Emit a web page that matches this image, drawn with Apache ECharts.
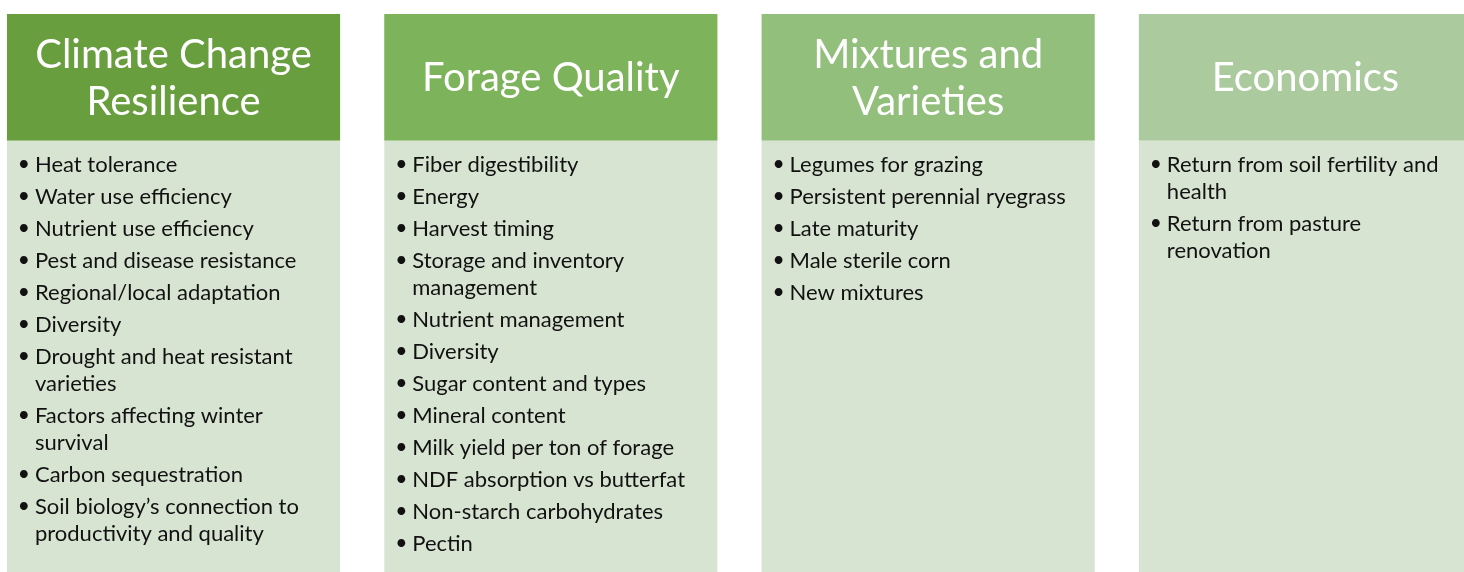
<!DOCTYPE html>
<html style="height: 100%">
<head>
<meta charset="utf-8">
<script src="https://cdn.jsdelivr.net/npm/echarts@6/dist/echarts.min.js"></script>
</head>
<body style="height: 100%; margin: 0; background: #fff">
<div id="container" style="width: 1464px; height: 572px"></div>
<script type="text/javascript">
// column headings
var headings = ['Climate Change\nResilience', 'Forage Quality', 'Mixtures and\nVarieties', 'Economics'];
var headColors = ['#689e3e', '#7db35a', '#93bf7c', '#abca9d'];

// bullet items per column (line breaks as in the reference)
var climateItems = [
  'Heat tolerance',
  'Water use efficiency',
  'Nutrient use efficiency',
  'Pest and disease resistance',
  'Regional/local adaptation',
  'Diversity',
  'Drought and heat resistant\nvarieties',
  'Factors affecting winter\nsurvival',
  'Carbon sequestration',
  'Soil biology\u2019s connection to\nproductivity and quality'
];
var forageItems = [
  'Fiber digestibility',
  'Energy',
  'Harvest timing',
  'Storage and inventory\nmanagement',
  'Nutrient management',
  'Diversity',
  'Sugar content and types',
  'Mineral content',
  'Milk yield per ton of forage',
  'NDF absorption vs butterfat',
  'Non-starch carbohydrates',
  'Pectin'
];
var mixtureItems = [
  'Legumes for grazing',
  'Persistent perennial ryegrass',
  'Late maturity',
  'Male sterile corn',
  'New mixtures'
];
var economicsItems = [
  'Return from soil fertility and\nhealth',
  'Return from pasture\nrenovation'
];
var columnItems = [climateItems, forageItems, mixtureItems, economicsItems];

var FONT = 'Lato, "Open Sans", sans-serif';

var myChart = echarts.init(document.getElementById('container'));

function renderColumn(params, api) {
  var idx = api.value(0);
  var cx = api.coord([idx, 0])[0];
  var w = api.size([1, 0])[0] * 0.883;
  var x0 = cx - w / 2;
  var top = api.coord([idx, 14])[1];
  var mid = api.coord([idx, 140.7])[1];
  var bot = api.coord([idx, 572])[1];
  var children = [
    { type: 'rect', shape: { x: x0, y: top, width: w, height: mid - top }, style: { fill: headColors[idx] } },
    { type: 'rect', shape: { x: x0, y: mid, width: w, height: bot - mid }, style: { fill: '#d8e4d2' } },
    { type: 'text', style: {
        text: headings[idx], x: cx, y: (top + mid) / 2 + 1, fill: '#fff',
        font: '40px ' + FONT, align: 'center', verticalAlign: 'middle', lineHeight: 47
    } }
  ];
  var y = mid + 24;
  columnItems[idx].forEach(function (item) {
    var lines = item.split('\n');
    children.push({ type: 'text', style: {
      text: '\u2022', x: x0 + 17, y: y, fill: '#111', font: '21px ' + FONT,
      align: 'center', verticalAlign: 'middle'
    } });
    children.push({ type: 'text', style: {
      text: item, x: x0 + 28, y: y - 13.5, fill: '#111', font: '22px ' + FONT,
      align: 'left', verticalAlign: 'top', lineHeight: 27
    } });
    y += lines.length * 27 + 5;
  });
  return { type: 'group', children: children };
}

var option = {
  animation: false,
  grid: { left: 0, right: 0, top: 0, bottom: 0 },
  xAxis: { type: 'value', min: -0.4599, max: 3.4202, show: false },
  yAxis: { type: 'value', min: 0, max: 572, inverse: true, show: false },
  series: [{
    type: 'custom',
    renderItem: renderColumn,
    clip: false,
    data: [[0], [1], [2], [3]]
  }]
};
myChart.setOption(option);
</script>
</body>
</html>
